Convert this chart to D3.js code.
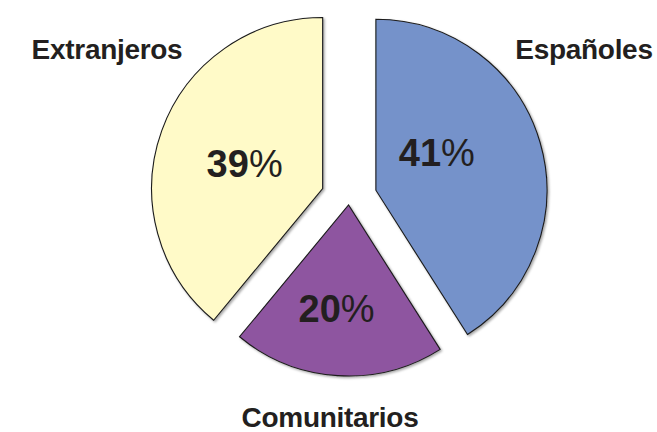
<!DOCTYPE html>
<html>
<head>
<meta charset="utf-8">
<script src="https://cdn.jsdelivr.net/npm/d3@7/dist/d3.min.js"></script>
<style>
  html, body { margin: 0; padding: 0; background: #fff; }
  svg { display: block; }
</style>
</head>
<body>
<div id="chart"></div>
<script>
// ---- data ----
const categories = ["Españoles", "Comunitarios", "Extranjeros"];
const values = [41, 20, 39];
const pctLabels = ["41%", "20%", "39%"];
const colors = ["#7592ca", "#8e54a0", "#fffac8"];

// ---- layout ----
const W = 657, H = 432;
const cx = 349, cy = 198, R = 171;
const explode = [28, 7, 28];
const pctOffset = [[61, -38], [-12, 103], [-78, -25]];
const outerLabelPos = [[584, 59], [330, 427], [107, 59]];

const svg = d3.select("#chart").append("svg")
  .attr("width", W).attr("height", H);

const defs = svg.append("defs");
const f = defs.append("filter").attr("id", "sh").attr("x", "-10%").attr("y", "-10%").attr("width", "130%").attr("height", "130%");
f.append("feDropShadow").attr("dx", 1.5).attr("dy", 1.5).attr("stdDeviation", 0.8)
  .attr("flood-color", "#000").attr("flood-opacity", 0.35);

const pie = d3.pie().sort(null).value(d => d).startAngle(0).endAngle(2 * Math.PI);
const arcs = pie(values);
const arc = d3.arc().innerRadius(0).outerRadius(R);

const g = svg.append("g").attr("transform", `translate(${cx},${cy})`);

const slices = g.selectAll("g.slice").data(arcs).enter().append("g")
  .attr("class", "slice")
  .attr("transform", (d, i) => {
    const a = (d.startAngle + d.endAngle) / 2;
    return `translate(${explode[i] * Math.sin(a)},${-explode[i] * Math.cos(a)})`;
  });

slices.append("path")
  .attr("d", arc)
  .attr("fill", (d, i) => colors[i])
  .attr("stroke", "#1a1a1a")
  .attr("stroke-width", 1.1)
  .attr("stroke-linejoin", "miter")
  .attr("filter", "url(#sh)");

const pt = slices.append("text")
  .attr("x", (d, i) => pctOffset[i][0])
  .attr("y", (d, i) => pctOffset[i][1])
  .attr("dy", "0.36em")
  .attr("text-anchor", "middle")
  .attr("font-family", "'Liberation Sans', Arial, sans-serif")
  .attr("font-size", 38)
  .attr("fill", "#231f20");
pt.append("tspan").attr("font-weight", "bold").text((d, i) => pctLabels[i].replace("%", ""));
pt.append("tspan").attr("font-weight", "normal").text("%");

svg.selectAll("text.cat").data(categories).enter().append("text")
  .attr("class", "cat")
  .attr("x", (d, i) => outerLabelPos[i][0])
  .attr("y", (d, i) => outerLabelPos[i][1])
  .attr("text-anchor", "middle")
  .attr("font-family", "'Liberation Sans', Arial, sans-serif")
  .attr("font-weight", "bold")
  .attr("font-size", 28)
  .attr("letter-spacing", -0.3)
  .attr("fill", "#231f20")
  .text(d => d);
</script>
</body>
</html>
